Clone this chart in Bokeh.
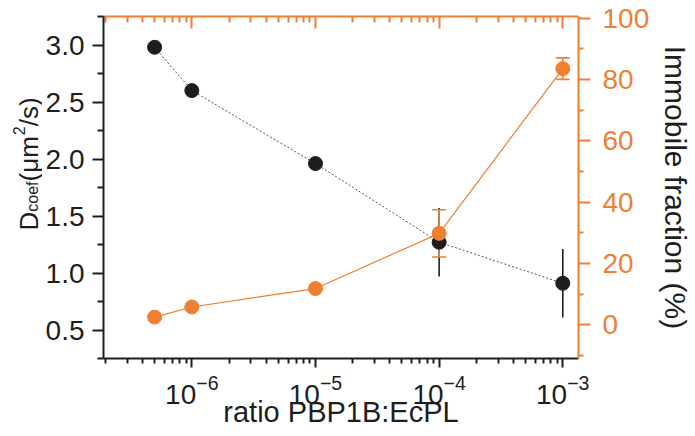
import math
from bokeh.plotting import figure
from bokeh.layouts import row
from bokeh.core.properties import value
from bokeh.models import (Range1d, LinearAxis, LogAxis, FixedTicker, LogTickFormatter,
                          Whisker, ColumnDataSource, TeeHead, CustomJSTickFormatter,
                          PrintfTickFormatter)
from bokeh.embed import file_html
from bokeh.resources import INLINE

# ---------------- data ----------------
ratio = [5e-7, 1e-6, 1e-5, 1e-4, 1e-3]
dcoef = [2.98, 2.60, 1.96, 1.27, 0.91]
dcoef_err = [0.0, 0.0, 0.0, 0.30, 0.30]
immobile = [2.5, 5.8, 11.8, 29.8, 83.5]
immobile_err = [0.0, 0.0, 0.0, 7.7, 3.5]

x_major_ticks = [1e-6, 1e-5, 1e-4, 1e-3]
x_decades = [-7, -6, -5, -4, -3]
left_ticks = [0.5, 1.0, 1.5, 2.0, 2.5, 3.0]
left_minor = [0.25, 0.75, 1.25, 1.75, 2.25, 2.75, 3.25]
right_ticks = [0, 20, 40, 60, 80, 100]
right_minor = [-10, 10, 30, 50, 70, 90]

x_label = "ratio PBP1B:EcPL"
right_label = "Immobile fraction (%)"
left_label_parts = ["D", "coef", " (μm", "2", "/s)"]

ORANGE = "#EF7F31"
BLACK = "#1e1e1e"
FONT = "Liberation Sans"

TOTAL_W, H = 695, 436
TW = 42                      # narrow strip holding the composite left label
W = TOTAL_W - TW
FL = 103 - TW                # frame left in main-figure coords
FR = 587 - TW                # frame right
FT = 16                      # frame top
FB = 358                     # frame bottom

x_minor = [n * 10.0 ** e for e in x_decades for n in range(2, 10)]

p = figure(width=W, height=H, x_axis_type="log",
           x_range=Range1d(1.93e-7, 1.34e-3), y_range=Range1d(0.25, 3.25),
           output_backend="svg", toolbar_location=None,
           min_border_left=FL, min_border_right=W - FR,
           min_border_top=FT, min_border_bottom=H - FB)
p.extra_y_ranges = {"imm": Range1d(-11, 100.5)}
p.xgrid.visible = False
p.ygrid.visible = False
p.outline_line_color = None
p.background_fill_color = "white"
p.border_fill_color = "white"

# ---------------- data glyphs ----------------
src_d = ColumnDataSource(dict(x=ratio, y=dcoef,
                              lo=[v - e for v, e in zip(dcoef, dcoef_err)],
                              hi=[v + e for v, e in zip(dcoef, dcoef_err)]))
src_i = ColumnDataSource(dict(x=ratio, y=immobile,
                              lo=[v - e for v, e in zip(immobile, immobile_err)],
                              hi=[v + e for v, e in zip(immobile, immobile_err)]))

p.line("x", "y", source=src_d, line_color="#555555", line_width=1, line_dash="2 2")
wd = Whisker(base="x", lower="lo", upper="hi", source=src_d, line_color=BLACK,
             line_width=1.6, upper_head=None, lower_head=None)
p.add_layout(wd)
p.scatter("x", "y", source=src_d, size=14, color=BLACK)

p.line("x", "y", source=src_i, y_range_name="imm", line_color=ORANGE, line_width=1.2)
wi = Whisker(base="x", lower="lo", upper="hi", source=src_i, y_range_name="imm",
             line_color=ORANGE, line_width=1.6,
             upper_head=TeeHead(size=14, line_color=ORANGE, line_width=1.6),
             lower_head=TeeHead(size=14, line_color=ORANGE, line_width=1.6))
p.add_layout(wi)
p.scatter("x", "y", source=src_i, y_range_name="imm", size=14, color=ORANGE)

# ---------------- axes ----------------
def style(ax, color, tick_out, minor_out, tick_in=0, minor_in=0):
    ax.axis_line_color = color
    ax.axis_line_width = 2
    ax.major_tick_line_color = color
    ax.minor_tick_line_color = color
    ax.major_tick_line_width = 2
    ax.minor_tick_line_width = 2
    ax.major_tick_out = tick_out
    ax.major_tick_in = tick_in
    ax.minor_tick_out = minor_out
    ax.minor_tick_in = minor_in
    ax.major_label_text_font = FONT
    ax.major_label_text_font_size = "28px"
    ax.axis_label_text_font = FONT
    ax.axis_label_text_font_size = "29px"
    ax.axis_label_text_font_style = "normal"
    ax.axis_label_text_color = BLACK

xa = p.xaxis[0]
xa.ticker = FixedTicker(ticks=x_major_ticks, minor_ticks=x_minor)
xa.formatter = LogTickFormatter()
style(xa, BLACK, 9, 5)
xa.major_label_text_color = BLACK
xa.major_label_standoff = 7
xa.axis_label = x_label
xa.axis_label_standoff = -11

ya = p.yaxis[0]
ya.ticker = FixedTicker(ticks=left_ticks, minor_ticks=left_minor)
ya.formatter = PrintfTickFormatter(format="%.1f")
style(ya, BLACK, 11, 6)
ya.major_label_text_color = BLACK
ya.major_label_standoff = 8

ra = LinearAxis(y_range_name="imm",
                ticker=FixedTicker(ticks=right_ticks, minor_ticks=right_minor))
style(ra, ORANGE, 12, 5)
ra.major_label_text_color = ORANGE
ra.major_label_standoff = 12
ra.axis_label = right_label
ra.axis_label_text_font_size = "30px"
ra.axis_label_standoff = 7
p.add_layout(ra, "right")

ta = LogAxis(ticker=FixedTicker(ticks=x_major_ticks, minor_ticks=x_minor),
             formatter=CustomJSTickFormatter(code="return ''"))
style(ta, ORANGE, 0, 0, tick_in=12, minor_in=6)
ta.major_label_text_font_size = "0px"
ta.major_label_standoff = 0
p.add_layout(ta, "above")

# ---------------- composite left label D_coef (μm²/s) in a narrow strip ----------------
# The strip's frame is aligned with the main frame (page y FT..FB), so its
# y range is expressed as (H - page_y) over that same span.
tf = figure(width=TW, height=H, x_range=Range1d(0, TW), y_range=Range1d(H - FB, H - FT),
            output_backend="svg", toolbar_location=None,
            x_axis_location=None, y_axis_location=None,
            min_border_left=0, min_border_right=0, min_border_top=FT, min_border_bottom=H - FB)
tf.xgrid.visible = False
tf.ygrid.visible = False
tf.outline_line_color = None
tf.background_fill_color = "white"
tf.border_fill_color = "white"

F, S = 26, 16
adv = {"D": 0.722, "coef": 1.89, " (μm": 1.78, "2": 0.556, "/s)": 1.111}
sizes = {"D": F, "coef": S, " (μm": F, "2": S, "/s)": F}
shift = {"D": 0, "coef": 4, " (μm": 0, "2": -10, "/s)": 0}
base_x = 28.0          # page x of the text baseline
py = 230.0             # page y where the label starts (its bottom)
xs, ys, ts, fs = [], [], [], []
for part in left_label_parts:
    xs.append(base_x + shift[part])
    ys.append(H - py)
    ts.append(part)
    fs.append(f"{sizes[part]}px")
    py -= adv[part] * sizes[part]
tsrc = ColumnDataSource(dict(x=xs, y=ys, text=ts, size=fs))
tf.text("x", "y", text="text", source=tsrc, angle=math.pi / 2,
        text_font=value(FONT), text_font_size="size", text_color=BLACK,
        text_align="left", text_baseline="alphabetic")

layout = row(tf, p, spacing=0)
open("out.html", "w").write(file_html(layout, INLINE))
